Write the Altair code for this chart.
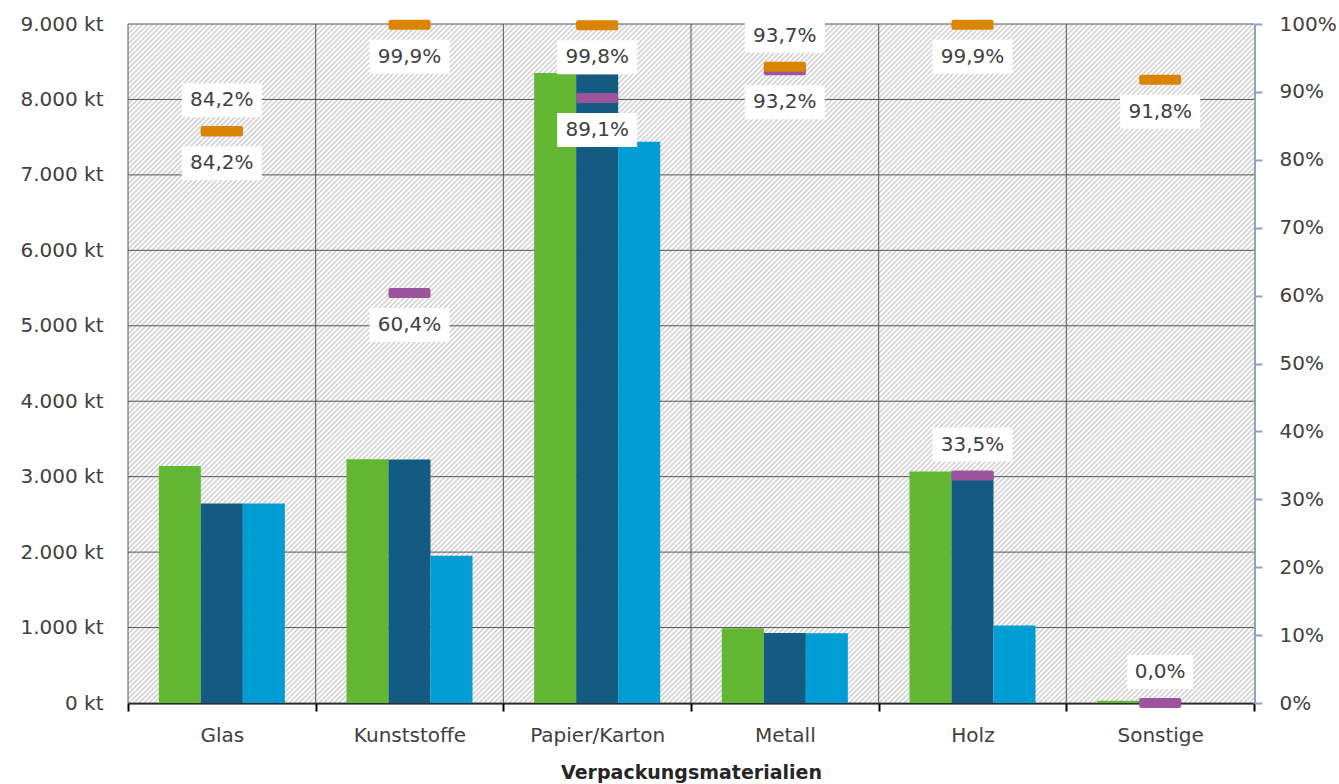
import altair as alt
import pandas as pd

# Packaging materials and quantities (kt)
materials = ["Glas", "Kunststoffe", "Papier/Karton", "Metall", "Holz", "Sonstige"]
series = ["Verbrauch", "Verwertung", "stoffliche Verwertung"]
verbrauch_kt = [3140, 3230, 8350, 990, 3070, 30]
verwertung_kt = [2644, 3227, 8333, 928, 3067, 28]
stofflich_kt = [2644, 1951, 7440, 923, 1028, 0]

# Rates (right axis)
verwertungsquote = [0.842, 0.999, 0.998, 0.937, 0.999, 0.918]
recyclingquote = [0.842, 0.604, 0.891, 0.932, 0.335, 0.000]
# Which side of its marker each rate label sits on
verwertung_label_side = ["below", "below", "below", "above", "below", "below"]
recycling_label_side = ["above", "below", "below", "below", "above", "above"]

# Axis tick values
kt_ticks = list(range(0, 9001, 1000))
pct_ticks = [i / 10 for i in range(11)]

bar_colors = ["#62b733", "#145b82", "#009cd4"]
color_verwertung = "#da8400"
color_recycling = "#9c559c"
grid_color = "#555555"
text_color = "#404040"
font = "DejaVu Sans"

W, H = 1126, 679

bars_df = pd.DataFrame(
    [
        {"material": m, "series": s, "kt": v}
        for s, vals in zip(series, [verbrauch_kt, verwertung_kt, stofflich_kt])
        for m, v in zip(materials, vals)
    ]
)


def pct_label(r):
    return f"{r * 100:.1f}".replace(".", ",") + "%"


rates_rows = []
for kind, vals, sides in [
    ("Recyclingquote", recyclingquote, recycling_label_side),
    ("Verwertungsquote", verwertungsquote, verwertung_label_side),
]:
    for m, r, sd in zip(materials, vals, sides):
        rates_rows.append(
            {"material": m, "kind": kind, "rate": r, "label": pct_label(r), "side": sd}
        )
rates_df = pd.DataFrame(rates_rows)

x_scale = alt.Scale(domain=materials, paddingInner=0, paddingOuter=0)
x_axis = alt.Axis(
    title="Verpackungsmaterialien",
    labelAngle=0,
    tickBand="extent",
    grid=False,
    domainColor="#000000",
    domainWidth=2,
    tickColor="#000000",
    tickWidth=2,
    tickSize=8,
    labelPadding=14,
    labelFont=font,
    labelFontSize=20,
    labelColor=text_color,
    titleFont=font,
    titleFontSize=19,
    titleFontWeight="bold",
    titleColor="#262626",
    titlePadding=18,
)
y_kt_scale = alt.Scale(domain=[0, 9000], nice=False)
y_kt_axis = alt.Axis(
    orient="left",
    title=None,
    values=kt_ticks,
    labelExpr="replace(format(datum.value, ','), ',', '.') + ' kt'",
    grid=False,
    domain=False,
    ticks=False,
    labelPadding=25,
    labelFont=font,
    labelFontSize=20,
    labelColor=text_color,
)

# plot background
background = alt.Chart(pd.DataFrame({"v": [0]})).mark_rect(color="#fbfbfb").encode(
    x=alt.value(0), x2=alt.value(W), y=alt.value(0), y2=alt.value(H)
)

# thin diagonal hatch lines across the plot background (pixel space, clipped)
hatch_step = 5
hatch = (
    alt.Chart(alt.sequence(0, W + H + hatch_step, hatch_step, as_="c"))
    .transform_calculate(c2=f"datum.c - {H}", top="0", bottom=f"{H}")
    .mark_rule(color="#cdcdcd", strokeWidth=1.3, clip=True)
    .encode(
        x=alt.X("c:Q", scale=None, axis=None),
        x2="c2:Q",
        y=alt.Y("top:Q", scale=None, axis=None),
        y2="bottom:Q",
    )
)

# horizontal grid lines at the kt ticks
hgrid = (
    alt.Chart(pd.DataFrame({"kt": kt_ticks}))
    .mark_rule(color=grid_color, strokeWidth=1)
    .encode(y=alt.Y("kt:Q", scale=y_kt_scale, axis=y_kt_axis))
)

# vertical grid lines on the category boundaries
vgrid = (
    alt.Chart(pd.DataFrame({"material": materials}))
    .mark_rule(color=grid_color, strokeWidth=1)
    .encode(x=alt.X("material:N", sort=materials, scale=x_scale, axis=x_axis, bandPosition=0))
)

bars = (
    alt.Chart(bars_df)
    .mark_bar()
    .encode(
        x=alt.X("material:N", sort=materials, scale=x_scale, axis=x_axis),
        xOffset=alt.XOffset(
            "series:N",
            sort=series,
            scale=alt.Scale(domain=series, paddingInner=0, paddingOuter=0.734),
        ),
        y=alt.Y("kt:Q", scale=y_kt_scale, axis=y_kt_axis),
        color=alt.Color(
            "series:N", scale=alt.Scale(domain=series, range=bar_colors), legend=None
        ),
    )
)

left_layer = alt.layer(background, hatch, hgrid, vgrid, bars)

y_rate = alt.Y(
    "rate:Q",
    scale=alt.Scale(domain=[0, 1], nice=False),
    axis=alt.Axis(
        orient="right",
        title=None,
        format=".0%",
        values=pct_ticks,
        grid=False,
        domainColor="#8aa5c4",
        domainWidth=3,
        tickColor="#8aa5c4",
        tickWidth=2,
        tickSize=8,
        labelPadding=17,
        labelFont=font,
        labelFontSize=20,
        labelColor=text_color,
    ),
)

rates_base = alt.Chart(rates_df).encode(
    x=alt.X("material:N", sort=materials, scale=x_scale, axis=x_axis), y=y_rate
)

tick_recycling = rates_base.transform_filter(alt.datum.kind == "Recyclingquote").mark_tick(
    size=42, thickness=10, cornerRadius=2, color=color_recycling, opacity=1
)
tick_verwertung = rates_base.transform_filter(alt.datum.kind == "Verwertungsquote").mark_tick(
    size=42, thickness=10, cornerRadius=2, color=color_verwertung, opacity=1
)

box4 = "M-1,-0.515H1V0.515H-1Z"
box5 = "M-1,-0.425H1V0.425H-1Z"

label_layers = []
for side, off in [("above", -31), ("below", 32)]:
    sel = rates_base.transform_filter(alt.datum.side == side).transform_calculate(
        n="length(datum.label)"
    )
    boxes = sel.mark_point(
        filled=True, fill="white", opacity=1, strokeWidth=0, yOffset=off
    ).encode(
        shape=alt.Shape("n:O", scale=alt.Scale(domain=[4, 5], range=[box4, box5]), legend=None),
        size=alt.Size("n:O", scale=alt.Scale(domain=[4, 5], range=[66 * 66, 80 * 80]), legend=None),
    )
    texts = sel.mark_text(
        font=font, fontSize=20, color=text_color, baseline="middle", yOffset=off
    ).encode(text="label:N")
    label_layers += [boxes, texts]

right_layer = alt.layer(tick_recycling, tick_verwertung, *label_layers)

chart = (
    alt.layer(left_layer, right_layer)
    .resolve_scale(y="independent")
    .properties(
        width=W,
        height=H,
        autosize=alt.AutoSizeParams(type="none"),
        padding={"left": 128, "top": 24, "right": 85, "bottom": 81},
        background="white",
    )
    .configure_view(stroke="transparent")
)

chart.save("out.html", embed_options={"renderer": "svg", "actions": False})
